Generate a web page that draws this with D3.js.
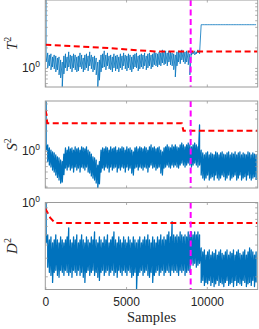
<!DOCTYPE html>
<html>
<head>
<meta charset="utf-8">
<script src="https://cdn.jsdelivr.net/npm/d3@7/dist/d3.min.js"></script>
<style>
  body { margin: 0; background: #fff; }
  svg { display: block; }
</style>
</head>
<body>
<svg id="chart" width="259" height="329"></svg>
<script>
// start sample of each 100-sample bin
const sampleBins = [
  0,100,200,300,400,500,600,700,800,900,1000,1100,1200,1300,1400,1500,1600,1700,1800,1900,
  2000,2100,2200,2300,2400,2500,2600,2700,2800,2900,3000,3100,3200,3300,3400,3500,3600,3700,3800,3900,
  4000,4100,4200,4300,4400,4500,4600,4700,4800,4900,5000,5100,5200,5300,5400,5500,5600,5700,5800,5900,
  6000,6100,6200,6300,6400,6500,6600,6700,6800,6900,7000,7100,7200,7300,7400,7500,7600,7700,7800,7900,
  8000,8100,8200,8300,8400,8500,8600,8700,8800,8900,9000,9100,9200,9300,9400,9500,
  9600,9700,9800,9900,10000,10100,10200,10300,10400,10500,10600,10700,10800,10900,11000,11100,11200,11300,11400,11500,
  11600,11700,11800,11900,12000,12100,12200,12300,12400,12500,12600,12700,12800,12900,13000];

// per bin high / low of each statistic
const t2Hi = [
  10,1.66,1.55,1.61,1.45,1.55,1.50,1.40,1.45,1.31,1.22,1.50,1.61,1.45,1.72,1.55,1.50,1.61,1.55,1.45,
  1.50,1.66,1.55,1.40,1.55,1.61,1.50,1.72,1.55,1.45,1.50,1.40,1.22,1.31,1.55,1.61,1.78,1.55,1.66,1.50,
  1.55,1.45,1.61,1.50,1.55,1.45,1.61,1.50,1.66,1.55,1.50,1.61,1.55,1.45,1.55,1.61,1.66,1.50,1.55,1.61,
  1.55,1.66,1.50,1.61,1.66,1.55,1.61,1.72,1.66,1.61,1.72,1.66,1.84,1.72,1.78,1.66,1.78,1.72,1.66,1.61,
  1.55,1.72,1.78,1.72,1.84,1.78,1.72,1.78,1.72,1.61,1.78,1.72,1.78,1.72,1.84,1.78,
  4.3,4.3,4.3,4.3,4.3,4.3,4.3,4.3,4.3,4.3,4.3,4.3,4.3,4.3,4.3,4.3,4.3,4.3,4.3,4.3,
  4.3,4.3,4.3,4.3,4.3,4.3,4.3,4.3,4.3,4.3,4.3,4.3,4.3,4.3,4.3];
const t2Lo = [
  1.22,1.0,1.07,0.935,1.03,0.967,0.873,0.935,0.79,0.713,0.53,0.816,1.0,0.903,1.03,0.967,0.873,1.0,0.935,0.873,
  0.903,1.03,0.967,0.873,0.935,1.0,0.903,1.07,0.967,0.873,0.935,0.79,0.53,0.66,0.873,1.0,1.03,0.935,1.07,0.967,
  0.935,0.873,1.0,0.903,0.967,0.873,1.0,0.935,1.07,0.967,0.903,1.0,0.935,0.873,0.967,1.03,1.0,0.903,0.967,1.03,
  0.967,1.07,0.935,1.0,1.07,0.967,1.03,1.11,1.07,1.03,1.11,1.07,1.18,1.11,1.15,1.07,1.22,1.11,1.07,0.94,
  0.737,1.07,1.22,1.15,1.31,1.22,1.15,1.22,1.11,0.79,1.55,1.61,1.55,1.61,1.66,1.61,
  4.3,4.3,4.3,4.3,4.3,4.3,4.3,4.3,4.3,4.3,4.3,4.3,4.3,4.3,4.3,4.3,4.3,4.3,4.3,4.3,
  4.3,4.3,4.3,4.3,4.3,4.3,4.3,4.3,4.3,4.3,4.3,4.3,4.3,4.3,4.3];

const s2Hi = [
  5.4,1.23,1.11,1.03,0.967,0.935,0.873,0.82,0.79,0.737,0.70,0.90,1.11,1.03,1.15,1.07,1.11,1.03,1.15,1.07,
  1.11,1.03,1.15,1.11,1.07,1.15,1.03,0.967,0.90,0.82,0.79,0.737,0.622,0.70,1.03,1.11,1.07,1.15,1.11,1.03,
  1.15,1.07,1.11,1.15,1.03,1.11,1.07,1.15,1.11,1.03,1.15,1.07,1.11,1.03,0.967,1.11,1.15,1.07,1.15,1.11,
  1.07,1.15,1.11,1.03,1.15,1.23,1.11,1.15,1.07,1.11,1.15,1.03,0.967,1.11,1.15,1.23,1.15,1.11,1.23,1.15,
  1.23,1.15,1.11,1.23,1.31,1.23,1.15,1.23,1.31,1.23,1.15,1.23,1.31,1.23,1.15,2.41,
  1.03,0.935,0.873,0.935,0.967,0.873,0.935,0.90,0.873,0.967,0.935,0.873,0.935,0.967,0.90,0.873,0.935,0.967,0.873,0.935,
  0.90,0.967,0.873,0.935,0.967,0.873,0.935,0.90,0.873,0.967,0.935,0.873,0.935,0.90,0.873];
const s2Lo = [
  1.03,0.70,0.622,0.582,0.526,0.491,0.444,0.41,0.375,0.338,0.35,0.45,0.563,0.526,0.582,0.526,0.563,0.491,0.582,0.526,
  0.563,0.491,0.582,0.563,0.526,0.582,0.491,0.475,0.43,0.40,0.375,0.338,0.286,0.33,0.491,0.563,0.526,0.582,0.563,0.491,
  0.582,0.526,0.563,0.582,0.491,0.563,0.526,0.582,0.563,0.491,0.582,0.526,0.563,0.475,0.444,0.563,0.582,0.526,0.582,0.563,
  0.526,0.582,0.563,0.491,0.582,0.622,0.563,0.582,0.526,0.563,0.582,0.475,0.444,0.563,0.582,0.622,0.582,0.563,0.622,0.582,
  0.622,0.582,0.563,0.622,0.666,0.622,0.582,0.622,0.666,0.622,0.582,0.622,0.666,0.622,0.582,0.622,
  0.444,0.401,0.375,0.401,0.444,0.375,0.401,0.42,0.375,0.444,0.401,0.375,0.401,0.444,0.42,0.375,0.401,0.444,0.375,0.401,
  0.42,0.444,0.375,0.401,0.444,0.375,0.401,0.42,0.375,0.444,0.401,0.375,0.401,0.42,0.375];

const d2Hi = [
  1.0,0.494,0.442,0.472,0.414,0.442,0.494,0.442,0.414,0.472,0.442,0.414,0.442,0.472,0.576,0.442,0.414,0.472,0.442,0.494,
  0.414,0.442,0.494,0.442,0.414,0.472,0.442,0.414,0.472,0.442,0.527,0.442,0.414,0.472,0.442,0.414,0.472,0.442,0.494,0.414,
  0.442,0.472,0.527,0.442,0.414,0.472,0.442,0.414,0.472,0.442,0.414,0.472,0.442,0.414,0.472,0.442,0.414,0.442,0.472,0.414,
  0.442,0.472,0.442,0.494,0.442,0.414,0.472,0.442,0.414,0.472,0.442,0.494,0.442,0.472,0.442,0.494,0.527,0.472,0.658,0.494,
  0.472,0.494,0.472,0.527,0.494,0.472,0.494,0.472,0.527,0.494,0.527,0.494,0.527,0.494,0.527,0.494,
  0.371,0.340,0.355,0.318,0.340,0.355,0.318,0.340,0.33,0.355,0.318,0.340,0.355,0.33,0.318,0.340,0.355,0.318,0.340,0.33,
  0.355,0.318,0.340,0.355,0.33,0.318,0.340,0.355,0.318,0.340,0.371,0.355,0.340,0.318,0.340];
const d2Lo = [
  0.414,0.244,0.218,0.204,0.175,0.218,0.228,0.204,0.196,0.228,0.218,0.204,0.228,0.218,0.204,0.218,0.196,0.228,0.218,0.204,
  0.228,0.204,0.218,0.196,0.175,0.218,0.228,0.204,0.218,0.228,0.204,0.218,0.196,0.183,0.218,0.228,0.204,0.218,0.228,0.204,
  0.218,0.228,0.204,0.218,0.196,0.228,0.218,0.204,0.228,0.218,0.204,0.228,0.218,0.196,0.204,0.218,0.150,0.204,0.218,0.228,
  0.204,0.218,0.228,0.204,0.196,0.218,0.175,0.204,0.218,0.228,0.204,0.218,0.228,0.204,0.218,0.228,0.218,0.204,0.228,0.218,
  0.228,0.218,0.204,0.228,0.218,0.228,0.204,0.218,0.228,0.218,0.266,0.255,0.266,0.244,0.255,0.266,
  0.175,0.183,0.164,0.175,0.170,0.183,0.164,0.175,0.160,0.170,0.183,0.164,0.175,0.170,0.160,0.175,0.183,0.164,0.170,0.175,
  0.160,0.183,0.164,0.175,0.170,0.164,0.183,0.175,0.160,0.170,0.175,0.164,0.183,0.160,0.175];

// control limits (red dashed)
const t2LimitX = [0, 3400, 6800, 13150];
const t2LimitY = [2.18, 1.99, 1.74, 1.74];
const s2LimitX = [0, 80, 120, 8450, 8550, 13150];
const s2LimitY = [4.0, 3.4, 2.55, 2.55, 1.99, 1.99];
const d2LimitX = [0, 300, 600, 13150];
const d2LimitY = [0.88, 0.72, 0.64, 0.64];

const faultSample = 9000;
const xTickValues = [0, 5000, 10000];

const panels = [
  { name: "T", hi: t2Hi, lo: t2Lo, limX: t2LimitX, limY: t2LimitY, domain: [0.525, 9.9], top: 0, lw: 0.8 },
  { name: "S", hi: s2Hi, lo: s2Lo, limX: s2LimitX, limY: s2LimitY, domain: [0.286, 5.43], top: 101, lw: 1.3 },
  { name: "D", hi: d2Hi, lo: d2Lo, limX: d2LimitX, limY: d2LimitY, domain: [0.15, 1.0], top: 202.5, lw: 1.3 }
];

const left = 45.3, right = 257.7, ph = 87;
const svg = d3.select("#chart");

const x = d3.scaleLinear().domain([0, 13150]).range([left, right]);

const axisGrey = "#9a9a9a";
const textCol = "#262626";

panels.forEach((p, i) => {
  const y = d3.scaleLog().domain(p.domain).range([p.top + ph, p.top]);
  const g = svg.append("g");

  const clipId = "clip" + i;
  svg.append("clipPath").attr("id", clipId)
    .append("rect")
    .attr("x", left).attr("y", p.top)
    .attr("width", right - left).attr("height", ph);

  // trace: each bin drawn high -> low at its centre, bins joined
  const pts = [];
  sampleBins.forEach((s, k) => {
    pts.push([s + 50, p.hi[k]]);
    pts.push([s + 50, p.lo[k]]);
  });
  const line = d3.line().x(d => x(d[0])).y(d => y(d[1]));

  g.append("path")
    .attr("clip-path", `url(#${clipId})`)
    .attr("d", line(pts))
    .attr("fill", "none")
    .attr("stroke", "#0072BD")
    .attr("stroke-width", p.lw)
    .attr("stroke-linejoin", "round");

  // limit
  g.append("path")
    .attr("clip-path", `url(#${clipId})`)
    .attr("d", line(p.limX.map((v, k) => [v, p.limY[k]])))
    .attr("fill", "none")
    .attr("stroke", "#ff0000")
    .attr("stroke-width", 2)
    .attr("stroke-dasharray", "6,3.5");

  // fault onset
  g.append("line")
    .attr("x1", x(faultSample)).attr("x2", x(faultSample))
    .attr("y1", p.top).attr("y2", p.top + ph)
    .attr("stroke", "#ff00ff")
    .attr("stroke-width", 2)
    .attr("stroke-dasharray", "6,3.5");

  // axes (ticks inside, box on)
  const yl = g.append("g").attr("transform", `translate(${left},0)`)
    .call(d3.axisLeft(y).tickSize(-2.5).tickFormat(""));
  const yr = g.append("g").attr("transform", `translate(${right},0)`)
    .call(d3.axisRight(y).tickSize(-2.5).tickFormat(""));
  const xb = g.append("g").attr("transform", `translate(0,${p.top + ph})`)
    .call(d3.axisBottom(x).tickValues(xTickValues).tickSize(-2.5)
      .tickFormat(i === 2 ? d3.format("d") : ""));
  const xt = g.append("g").attr("transform", `translate(0,${p.top})`)
    .call(d3.axisTop(x).tickValues(xTickValues).tickSize(-2.5).tickFormat(""));

  [yl, yr, xb, xt].forEach(a => {
    a.select(".domain").remove();
    a.selectAll(".tick line").attr("stroke", axisGrey).attr("stroke-width", 0.8);
  });
  xb.selectAll(".tick text")
    .attr("fill", textCol)
    .attr("font-family", "Liberation Sans, Arial, sans-serif")
    .attr("font-size", 12)
    .attr("dy", null)
    .attr("y", 16);

  g.append("rect")
    .attr("x", left).attr("y", p.top)
    .attr("width", right - left).attr("height", ph)
    .attr("fill", "none")
    .attr("stroke", axisGrey)
    .attr("stroke-width", 1);

  // 10^0 label
  const lab = g.append("text")
    .attr("x", 40).attr("y", y(1) + 4)
    .attr("text-anchor", "end")
    .attr("fill", textCol)
    .attr("font-family", "Liberation Sans, Arial, sans-serif")
    .attr("font-size", 12);
  lab.append("tspan").text("10");
  lab.append("tspan").attr("font-size", 8.5).attr("dy", -5).text("0");

  // y label
  const cy = p.top + ph / 2;
  const t = g.append("text")
    .attr("transform", `translate(17,${cy}) rotate(-90)`)
    .attr("text-anchor", "middle")
    .attr("fill", textCol)
    .attr("font-family", "Liberation Serif, Times New Roman, serif")
    .attr("font-size", 15);
  t.append("tspan").attr("font-style", "italic").text(p.name);
  t.append("tspan").attr("font-size", 10).attr("dy", -6).text("2");
});

svg.append("text")
  .attr("x", (left + right) / 2).attr("y", 322)
  .attr("text-anchor", "middle")
  .attr("fill", textCol)
  .attr("font-family", "Liberation Serif, Times New Roman, serif")
  .attr("font-size", 14.5)
  .text("Samples");
</script>
</body>
</html>
